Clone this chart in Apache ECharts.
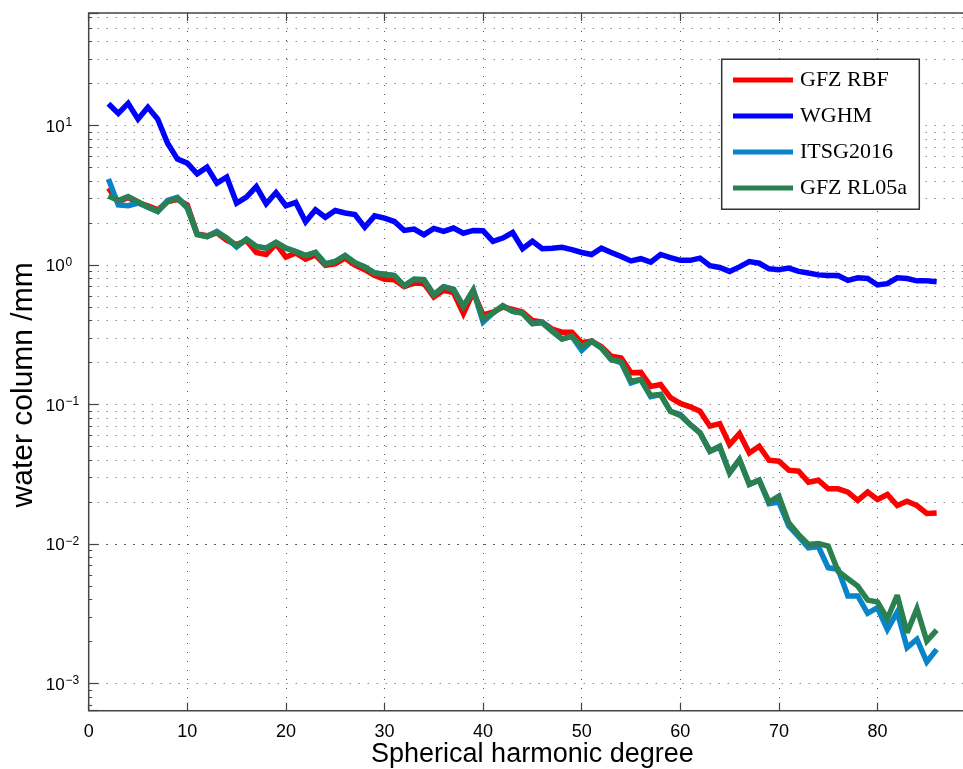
<!DOCTYPE html>
<html>
<head>
<meta charset="utf-8">
<script src="https://cdn.jsdelivr.net/npm/echarts@6/dist/echarts.min.js"></script>
<style>
html,body{margin:0;padding:0;background:#fff;}
#chart{width:963px;height:769px;}
</style>
</head>
<body>
<div id="chart"></div>
<script>
// Spherical harmonic degrees 2..86
const degrees = [];
for (let d = 2; d <= 86; d++) degrees.push(d);

const seriesNames = ['GFZ RBF', 'WGHM', 'ITSG2016', 'GFZ RL05a'];

const gfzRBF = [
  3.56, 2.85, 3.05, 2.80, 2.66, 2.49, 2.85, 2.95, 2.70, 1.67,
  1.62, 1.70, 1.50, 1.40, 1.50, 1.23, 1.19, 1.42, 1.14, 1.22,
  1.10, 1.18, 0.995, 1.02, 1.12, 1.00, 0.925, 0.84, 0.79, 0.785,
  0.70, 0.744, 0.74, 0.59, 0.66, 0.635, 0.45, 0.64, 0.44, 0.46,
  0.50, 0.48, 0.46, 0.40, 0.39, 0.348, 0.33, 0.33, 0.277, 0.285,
  0.26, 0.222, 0.216, 0.169, 0.17, 0.135, 0.139, 0.112, 0.102, 0.0963,
  0.0895, 0.070, 0.073, 0.0517, 0.062, 0.045, 0.0503, 0.0399, 0.0393, 0.0339,
  0.0333, 0.0278, 0.0287, 0.0249, 0.0249, 0.0236, 0.0206, 0.0236, 0.0209, 0.0227,
  0.0189, 0.0203, 0.0189, 0.0166, 0.0167
];

const wghm = [
  14.3, 12.2, 14.4, 11.1, 13.5, 11.1, 7.47, 5.74, 5.37, 4.5,
  5.03, 3.86, 4.27, 2.78, 3.07, 3.65, 2.75, 3.31, 2.66, 2.81,
  2.04, 2.49, 2.20, 2.46, 2.36, 2.30, 1.87, 2.25, 2.17, 2.05,
  1.77, 1.81, 1.65, 1.83, 1.74, 1.84, 1.69, 1.77, 1.76, 1.48,
  1.56, 1.71, 1.31, 1.48, 1.31, 1.32, 1.34, 1.29, 1.23, 1.19,
  1.32, 1.23, 1.15, 1.07, 1.11, 1.05, 1.19, 1.13, 1.08, 1.08,
  1.12, 0.99, 0.96, 0.90, 0.97, 1.06, 1.03, 0.94, 0.925, 0.95,
  0.90, 0.877, 0.85, 0.84, 0.84, 0.776, 0.81, 0.80, 0.72, 0.735,
  0.81, 0.80, 0.77, 0.77, 0.76
];

const itsg2016 = [
  4.13, 2.70, 2.66, 2.78, 2.60, 2.42, 2.90, 3.05, 2.60, 1.66,
  1.60, 1.74, 1.56, 1.35, 1.53, 1.36, 1.32, 1.45, 1.32, 1.25,
  1.17, 1.23, 1.02, 1.06, 1.17, 1.04, 0.97, 0.877, 0.86, 0.84,
  0.71, 0.79, 0.785, 0.613, 0.70, 0.67, 0.505, 0.66, 0.39, 0.453,
  0.51, 0.466, 0.453, 0.38, 0.39, 0.34, 0.295, 0.308, 0.245, 0.284,
  0.254, 0.21, 0.20, 0.143, 0.151, 0.114, 0.118, 0.0895, 0.085, 0.072,
  0.0627, 0.0463, 0.0495, 0.0324, 0.0404, 0.0268, 0.0287, 0.0195, 0.020, 0.0135,
  0.0113, 0.0094, 0.0096, 0.00678, 0.0066, 0.00425, 0.00425, 0.00319, 0.0035, 0.00245,
  0.00326, 0.00181, 0.00208, 0.00143, 0.00176
];

const gfzRL05a = [
  3.13, 2.90, 3.10, 2.85, 2.60, 2.42, 2.85, 3.02, 2.56, 1.65,
  1.60, 1.71, 1.56, 1.37, 1.53, 1.36, 1.32, 1.45, 1.32, 1.25,
  1.17, 1.23, 1.02, 1.06, 1.17, 1.04, 0.97, 0.877, 0.86, 0.84,
  0.71, 0.79, 0.785, 0.613, 0.70, 0.67, 0.505, 0.66, 0.41, 0.453,
  0.51, 0.466, 0.453, 0.38, 0.385, 0.335, 0.295, 0.308, 0.261, 0.284,
  0.254, 0.21, 0.204, 0.147, 0.151, 0.116, 0.118, 0.0895, 0.0834, 0.072,
  0.0627, 0.0463, 0.0503, 0.0324, 0.0404, 0.0268, 0.0287, 0.020, 0.0221, 0.0142,
  0.0117, 0.00995, 0.0101, 0.0097, 0.0064, 0.00565, 0.0050, 0.00397, 0.00385, 0.00292,
  0.0043, 0.00232, 0.00345, 0.00202, 0.00242
];

const colors = ['#ff0000', '#0000ff', '#0a84c8', '#2b8050'];

// Axis settings
const xTicks = [0, 10, 20, 30, 40, 50, 60, 70, 80];
const yMin = 6.4e-4, yMax = 64;
const minorGridValues = [];
for (let k = -4; k <= 1; k++) {
  for (let m = 2; m <= 9; m++) {
    const v = +(m * Math.pow(10, k)).toPrecision(3);
    if (v > yMin && v < yMax) minorGridValues.push(v);
  }
}

function pairs(arr) { return degrees.map((d, i) => [d, arr[i]]); }

const dotted = { type: [1, 8], color: '#555', width: 1 };

const markData = [];
minorGridValues.forEach(v => {
  markData.push({ yAxis: v, lineStyle: dotted });
  markData.push([{ coord: [0, v], lineStyle: { type: 'solid', color: '#444', width: 1 } }, { coord: [0.35, v] }]);
});

const chart = echarts.init(document.getElementById('chart'));

const lineSeries = [gfzRBF, wghm, itsg2016, gfzRL05a].map((arr, i) => ({
  name: seriesNames[i],
  type: 'line',
  data: pairs(arr),
  showSymbol: false,
  symbol: 'none',
  z: 3,
  lineStyle: { color: colors[i], width: 5.5, join: 'miter', miterLimit: 3 },
  itemStyle: { color: colors[i] },
  emphasis: { disabled: true }
}));

chart.setOption({
  animation: false,
  backgroundColor: '#fff',
  grid: {
    left: 88.7, top: 13, width: 887.4, height: 697.7,
    containLabel: false, outerBoundsMode: 'none',
    show: true, borderColor: '#444', borderWidth: 1.5, backgroundColor: 'transparent'
  },
  xAxis: [{
    type: 'value', min: 0, max: 90, interval: 10,
    axisLine: { show: false },
    axisTick: { inside: true, length: 8, lineStyle: { color: '#444', width: 1.2 } },
    axisLabel: {
      margin: 12, fontSize: 18, fontFamily: 'Liberation Sans', color: '#000',
      formatter: v => (xTicks.indexOf(v) >= 0 ? String(v) : '')
    },
    splitLine: { show: true, lineStyle: dotted },
    name: 'Spherical harmonic degree', nameLocation: 'middle', nameGap: 30, nameMoveOverlap: false,
    nameTextStyle: { fontSize: 27, fontFamily: 'Liberation Sans', color: '#000' }
  }, {
    type: 'value', min: 0, max: 90, interval: 10, position: 'top',
    axisLine: { show: false },
    axisTick: { inside: true, length: 8, lineStyle: { color: '#444', width: 1.2 } },
    axisLabel: { show: false },
    splitLine: { show: false }
  }],
  yAxis: {
    type: 'log', logBase: 10, min: yMin, max: yMax,
    axisLine: { show: false },
    axisTick: { inside: true, length: 10, lineStyle: { color: '#444', width: 1.2 } },
    axisLabel: {
      margin: 43, align: 'left', color: '#000',
      formatter: function (v) {
        const e = Math.log10(v);
        const r = Math.round(e);
        if (Math.abs(e - r) > 1e-6) return '';
        const s = r < 0 ? '\u2212' + (-r) : String(r);
        return '{b|10}{s|' + s + '}';
      },
      rich: {
        b: { fontSize: 17, lineHeight: 17, fontFamily: 'Liberation Sans', color: '#000', padding: [6, 0, 3, 0] },
        s: { fontSize: 12, lineHeight: 12, fontFamily: 'Liberation Sans', color: '#000', verticalAlign: 'top', padding: [0, 0, 0, 1] }
      }
    },
    splitLine: { show: true, lineStyle: dotted },
    name: 'water column /mm', nameLocation: 'middle', nameGap: 50, nameRotate: 90, nameMoveOverlap: false,
    nameTextStyle: { fontSize: 30, fontFamily: 'Liberation Sans', color: '#000', padding: [0, 46, 0, 0] }
  },
  legend: {
    data: seriesNames,
    orient: 'vertical',
    left: 733, top: 69,
    padding: 0,
    itemGap: 14,
    itemWidth: 60, itemHeight: 5,
    icon: 'rect',
    z: 10,
    textStyle: { fontSize: 22, lineHeight: 22, fontFamily: 'Liberation Serif', color: '#000', padding: [0, 0, 0, 2] }
  },
  graphic: [{
    type: 'rect', z: 9,
    shape: { x: 721.7, y: 59.3, width: 197.6, height: 150 },
    style: { fill: '#fff', stroke: '#333', lineWidth: 1.5 }
  }],
  series: [{
    type: 'line', data: [], z: 1, silent: true,
    markLine: { silent: true, symbol: 'none', animation: false, label: { show: false }, data: markData }
  }].concat(lineSeries)
});
</script>
</body>
</html>
